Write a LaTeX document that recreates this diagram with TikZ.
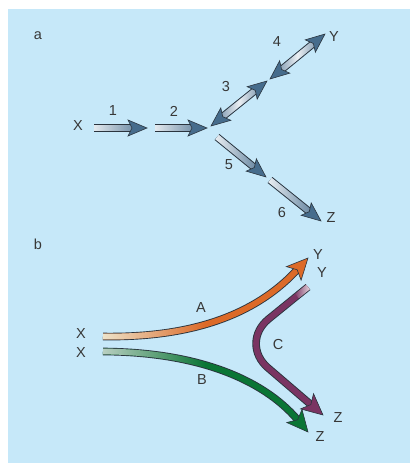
\documentclass[tikz,border=0pt]{standalone}
\usepackage{fontspec}
\setmainfont{Liberation Sans}
\usetikzlibrary{fadings,decorations.markings}

\definecolor{bgblue}{RGB}{198,232,249}
\definecolor{edgec}{RGB}{42,52,62}
\definecolor{textc}{RGB}{55,55,55}
\definecolor{steel}{RGB}{70,108,140}
\definecolor{palesteel}{RGB}{236,240,244}
\definecolor{orangeA}{RGB}{220,106,40}
\definecolor{paleorange}{RGB}{238,230,206}
\definecolor{greenB}{RGB}{10,117,53}
\definecolor{palegreen}{RGB}{190,210,198}
\definecolor{purpleC}{RGB}{122,52,98}
\definecolor{palepurple}{RGB}{236,226,232}

% fadings for the pale part of the shafts
\tikzfading[name=pale left, left color=transparent!0, right color=transparent!100]
\tikzfading[name=pale half, left color=transparent!0, right color=transparent!100, middle color=transparent!100]
\tikzfading[name=pale mid, left color=transparent!100, right color=transparent!100, middle color=transparent!0]
\tikzfading[name=pale right, left color=transparent!100, right color=transparent!0]

\tikzset{
  lbl/.style={font=\fontsize{14.5}{17}\selectfont, text=textc, inner sep=0pt},
  shaftout/.style={draw=edgec, line width=7.6pt},
  shaftin/.style={draw=#1, line width=5.6pt},
  bandout/.style={draw=edgec, line width=7.6pt},
  bandin/.style={draw=#1, line width=5.8pt},
  headmark/.style={postaction={decorate}, decoration={markings,
    mark=at position 1 with {\draw[edgec, fill=#1, line width=0.6pt] (0,0) -- (-19,-8) -- (-15,0) -- (-19,8) -- cycle;}}},
  headboth/.style={postaction={decorate}, decoration={markings,
    mark=at position 0 with {\draw[edgec, fill=#1, line width=0.6pt, rotate=180] (0,0) -- (-19,-8) -- (-15,0) -- (-19,8) -- cycle;},
    mark=at position 1 with {\draw[edgec, fill=#1, line width=0.6pt] (0,0) -- (-19,-8) -- (-15,0) -- (-19,8) -- cycle;}}},
  headbig/.style={postaction={decorate}, decoration={markings,
    mark=at position 1 with {\draw[edgec, fill=#1, line width=0.6pt] (0,0) -- (-21,-10) -- (-16,0) -- (-21,10) -- cycle;}}},
}

\begin{document}
\begin{tikzpicture}[x=1pt, y=-1pt]
  \useasboundingbox (0,0) rectangle (410,463);
  \fill[bgblue] (8,9) rectangle (410,463);

  % panel a
  \node[lbl] (pa) at (38,36) {a};
  \node[lbl] (Xa) at (78,126) {X};
  \node[lbl] (Ya) at (334,37) {Y};
  \node[lbl] (Za) at (331,218) {Z};
  \node[lbl] (n1) at (113,111) {1};
  \node[lbl] (n2) at (174,111) {2};
  \node[lbl] (n3) at (226,87) {3};
  \node[lbl] (n4) at (277,42) {4};
  \node[lbl] (n5) at (229,165) {5};
  \node[lbl] (n6) at (282,213) {6};

  \coordinate (t1) at (94,128);   \coordinate (h1) at (147,128);
  \coordinate (t2) at (155,128);  \coordinate (h2) at (207,128);
  \coordinate (t3) at (211,126);  \coordinate (h3) at (267,81);
  \coordinate (t4) at (270,79);   \coordinate (h4) at (325,34);
  \coordinate (t5) at (217,137);  \coordinate (h5) at (266,177);
  \coordinate (t6) at (270,180);  \coordinate (h6) at (321,221);

  % one-way arrows
  \foreach \s/\e in {t1/h1, t2/h2, t5/h5, t6/h6} {
    \draw[shaftout, shorten >=14pt] (\s) -- (\e);
    \draw[shaftin=steel, shorten >=14pt] (\s) -- (\e);
    \draw[shaftin=palesteel, shorten >=14pt, path fading=pale left] (\s) ++(0,4) ++(0,-8) (\s) -- (\e);
    \path[headmark=steel] (\s) -- (\e);
  }

  % two-way arrows
  \foreach \s/\e in {t3/h3, t4/h4} {
    \draw[shaftout, shorten >=14pt, shorten <=14pt] (\s) -- (\e);
    \draw[shaftin=steel, shorten >=14pt, shorten <=14pt] (\s) -- (\e);
    \draw[shaftin=palesteel, shorten >=14pt, shorten <=14pt, path fading=pale mid] (\s) -- (\e);
    \path[headboth=steel] (\s) -- (\e);
  }

  % panel b
  \node[lbl] (pb) at (38,244) {b};
  \node[lbl] (Xb1) at (81,334) {X};
  \node[lbl] (Xb2) at (81,353) {X};
  \node[lbl] (Yb1) at (318,255) {Y};
  \node[lbl] (Yb2) at (322,273) {Y};
  \node[lbl] (Zb1) at (338,418) {Z};
  \node[lbl] (Zb2) at (320,437) {Z};
  \node[lbl] (lA) at (201,308) {A};
  \node[lbl] (lB) at (202,380) {B};
  \node[lbl] (lC) at (278,345) {C};

  \coordinate (xa) at (103,336.5); \coordinate (ya) at (308,258);
  \coordinate (xb) at (103,351.5); \coordinate (zb) at (308,432);
  \coordinate (yc) at (308,287);   \coordinate (zc) at (323,415);
  \coordinate (bend) at (239,343);

  % A
  \draw[bandout, shorten >=16pt] (xa) .. controls (200,338) and (260,310) .. (ya);
  \draw[bandin=orangeA, shorten >=16pt] (xa) .. controls (200,338) and (260,310) .. (ya);
  \draw[bandin=paleorange, shorten >=16pt, path fading=pale half] (xa) .. controls (200,338) and (260,310) .. (ya);
  \path[headbig=orangeA] (xa) .. controls (200,338) and (260,310) .. (ya);

  % B
  \draw[bandout, shorten >=16pt] (xb) .. controls (195,352) and (262,378) .. (zb);
  \draw[bandin=greenB, shorten >=16pt] (xb) .. controls (195,352) and (262,378) .. (zb);
  \draw[bandin=palegreen, shorten >=16pt, path fading=pale half] (xb) .. controls (195,352) and (262,378) .. (zb);
  \path[headbig=greenB] (xb) .. controls (195,352) and (262,378) .. (zb);

  % C
  \draw[bandout, rounded corners=38pt, shorten >=16pt] (yc) -- (bend) -- (zc);
  \draw[bandin=purpleC, rounded corners=38pt, shorten >=16pt] (yc) -- (bend) -- (zc);
  \draw[bandin=palepurple, path fading=pale right] (yc) -- (297,296);
  \path[headbig=purpleC] (bend) -- (zc);

\end{tikzpicture}
\end{document}
